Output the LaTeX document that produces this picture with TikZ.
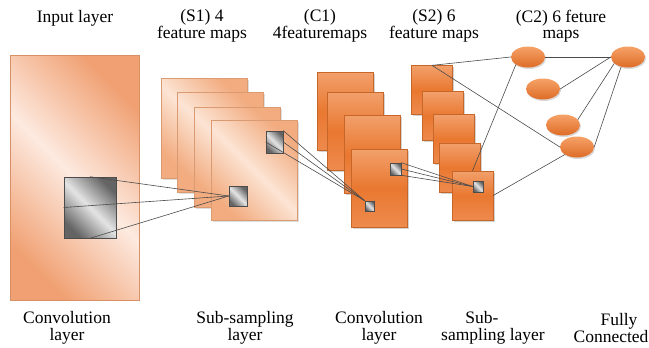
\documentclass[tikz,border=0pt]{standalone}
\usepackage{fontspec}
\setmainfont{Liberation Serif}
\newfontfamily\lblfont{Liberation Serif}
\usetikzlibrary{shadows,shapes.geometric}
\definecolor{pkEdge}{RGB}{240,160,114}
\definecolor{pkLight}{RGB}{253,234,224}
\definecolor{sEdge}{RGB}{242,172,128}
\definecolor{sLight}{RGB}{252,228,212}
\definecolor{orTop}{RGB}{242,160,108}
\definecolor{orMid}{RGB}{233,120,48}
\definecolor{orBot}{RGB}{238,138,78}
\definecolor{elTop}{RGB}{246,162,104}
\definecolor{elBot}{RGB}{222,108,38}
\definecolor{gyDark}{RGB}{100,100,100}
\definecolor{gyLight}{RGB}{228,228,228}
\definecolor{lineC}{RGB}{75,75,75}
\begin{document}
\begin{tikzpicture}[x=1pt,y=-1pt,
  lbl/.style={font=\lblfont\fontsize{17.5}{16.5}\selectfont, align=center, inner sep=0pt},
  inmap/.style={draw=pkEdge!90!black, line width=0.4pt, inner sep=0pt,
    minimum width=129pt, minimum height=245pt,
    left color=pkEdge, right color=pkEdge, middle color=pkLight, shading angle=135},
  smap/.style={draw=sEdge!90!black, line width=0.4pt, inner sep=0pt,
    minimum width=86pt, minimum height=100pt,
    left color=sEdge, right color=sEdge, middle color=sLight, shading angle=135,
    drop shadow={shadow xshift=1.5pt, shadow yshift=-1.5pt, opacity=0.25}},
  omap/.style={draw=orMid!85!black, line width=0.3pt, inner sep=0pt,
    top color=orTop, bottom color=orBot, middle color=orMid,
    drop shadow={shadow xshift=1.5pt, shadow yshift=-1.5pt, opacity=0.35}},
  cmap/.style={omap, minimum width=56pt, minimum height=78pt},
  s2map/.style={omap, minimum width=41pt, minimum height=49pt},
  gsq/.style={draw=gray!60!black, line width=0.6pt, inner sep=0pt,
    left color=gyDark, right color=gyDark, middle color=gyLight, shading angle=135},
  neuron/.style={ellipse, inner sep=0pt, minimum width=34pt, minimum height=21pt,
    top color=elTop, bottom color=elBot, draw=none,
    drop shadow={shadow xshift=1pt, shadow yshift=-1.5pt, opacity=0.3}},
  conn/.style={draw=lineC, line width=0.6pt}
]
\useasboundingbox (0,0) rectangle (649,348);

% input layer
\node[inmap] (inp) at (74.5,177.5) {};
\node[gsq, minimum width=52pt, minimum height=61pt] (gbig) at (90,207.5) {};

% S1 maps
\node[smap] (s1a) at (204,128) {};
\node[smap] (s1b) at (220,142) {};
\node[smap] (s1c) at (237,157) {};
\node[smap] (s1d) at (254,170) {};
\node[gsq, minimum width=18pt, minimum height=20pt] (q1) at (238,196) {};
\node[gsq, minimum width=17pt, minimum height=22pt] (q2) at (274.5,142) {};

% C1 maps
\node[cmap] (c1a) at (345.5,111.5) {};
\node[cmap] (c1b) at (355.5,131) {};
\node[cmap] (c1c) at (372.5,154) {};
\node[cmap] (c1d) at (379.5,188) {};
\node[gsq, minimum width=9pt, minimum height=10pt] (r1) at (369.5,206) {};
\node[gsq, minimum width=11pt, minimum height=12pt] (r2) at (395.5,169) {};

% S2 maps
\node[s2map] (s2a) at (432,90) {};
\node[s2map] (s2b) at (443,116) {};
\node[s2map] (s2c) at (453.5,139) {};
\node[s2map] (s2d) at (459.5,167.5) {};
\node[s2map] (s2e) at (472.5,195.5) {};
\node[gsq, minimum width=10pt, minimum height=11pt] (t1) at (478,186.5) {};

% fully connected
\node[neuron] (e1) at (528,57) {};
\node[neuron] (e2) at (543,89) {};
\node[neuron] (e3) at (563,125) {};
\node[neuron] (e4) at (577,147) {};
\node[neuron] (e5) at (628,57) {};

% connectors
\draw[conn] (gbig.north) -- (q1.west);
\draw[conn] (gbig.west) -- (q1.west);
\draw[conn] (gbig.south) -- (q1.west);
\draw[conn] (q2.north east) -- (r1.north west);
\draw[conn] (q2.east) -- (r1.north west);
\draw[conn] (q2.west) -- (r1.north west);
\draw[conn] (r2.north east) -- (t1.west);
\draw[conn] (r2.east) -- (t1.west);
\draw[conn] (r2.south east) -- (t1.west);
\draw[conn] (s2a.north) -- (e1.west);
\draw[conn] (s2a.north) -- (e4.west);
\draw[conn] (s2e.north) -- (e1.south west);
\draw[conn] (s2e.east) -- (e4.south west);
\draw[conn] (e1.east) -- (e5.west);
\draw[conn] (e5.west) -- (e2.east);
\draw[conn] (e5.205) -- (e3.20);
\draw[conn] (e5.235) -- (e4.east);

% labels
\node[lbl] (tIn) at (75,18) {Input layer};
\node[lbl] (tS1) at (202,26) {(S1) 4\\feature maps};
\node[lbl] (tC1) at (320,26) {(C1)\\4featuremaps};
\node[lbl] (tS2) at (434,26) {(S2) 6\\feature maps};
\node[lbl] (tC2) at (561,26) {(C2) 6 feture\\maps};
\node[lbl] (bIn) at (67,328) {Convolution\\layer};
\node[lbl] (bS1) at (245,328) {Sub-sampling\\layer};
\node[lbl] (bC1) at (379,328) {Convolution\\layer};
\node[lbl] (bS2) at (493,328) {Sub-\hspace*{22pt}\\sampling layer};
\node[lbl] (bFC) at (611,328) {\hspace*{16pt}Fully\\Connected};
\end{tikzpicture}
\end{document}
